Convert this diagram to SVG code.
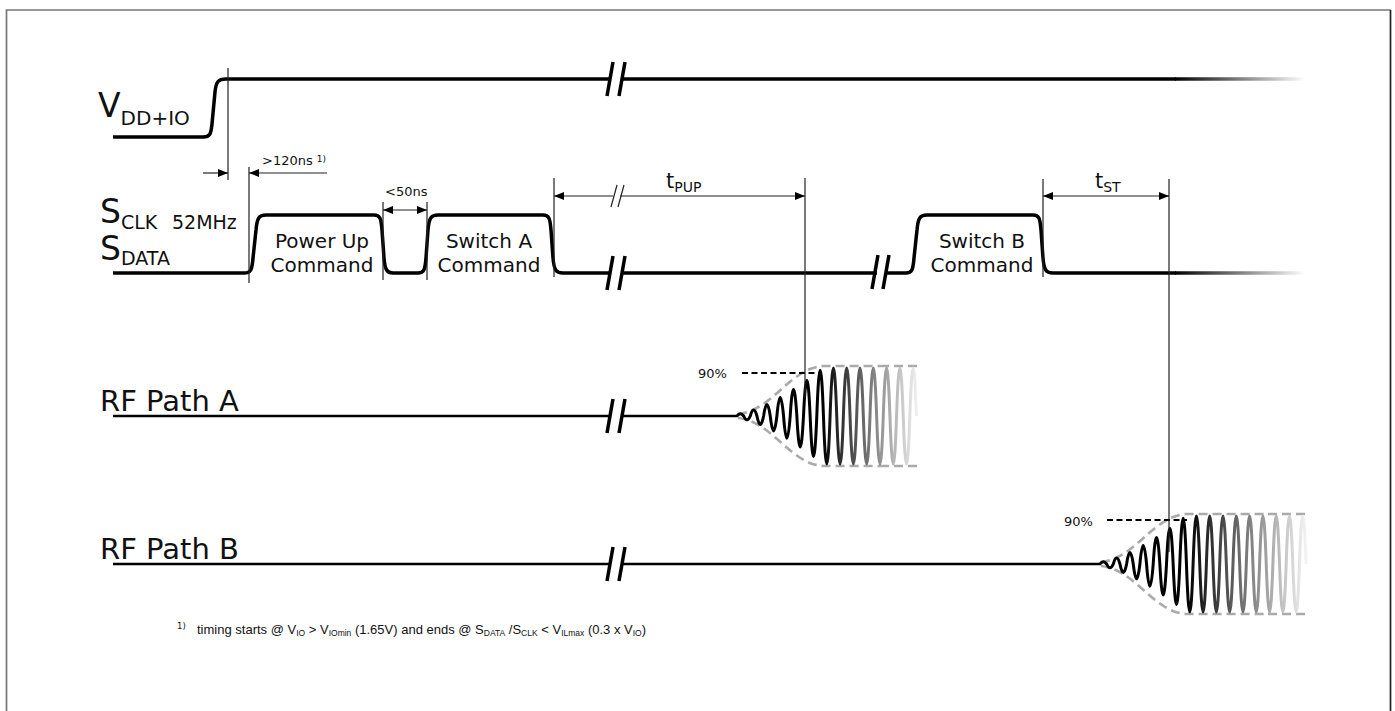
<svg xmlns="http://www.w3.org/2000/svg" width="1395" height="711" viewBox="0 0 1395 711">
<style>
.sig{fill:none;stroke:#000;stroke-width:3.5;stroke-linejoin:round;stroke-linecap:butt}
.rf{fill:none;stroke:#000;stroke-width:2.6}
.brk{stroke:#000;stroke-width:3.5;stroke-linecap:butt}
.dim{stroke:#222;stroke-width:1.2;fill:none}
.t{font-family:"DejaVu Sans",Verdana,sans-serif;fill:#111}
.env{fill:none;stroke:#aaa;stroke-width:2.6;stroke-dasharray:9,5}
.p90{stroke:#000;stroke-width:2.2;stroke-dasharray:6,3.5}
</style>
<defs>
<marker id="ah" viewBox="0 0 10 8" refX="10" refY="4" markerWidth="10" markerHeight="8" markerUnits="userSpaceOnUse" orient="auto-start-reverse">
<path d="M0,0 L10,4 L0,8 Z" fill="#000"/>
</marker>
<linearGradient id="fade" gradientUnits="userSpaceOnUse" x1="1175" y1="0" x2="1305" y2="0">
<stop offset="0" stop-color="#000"/>
<stop offset="1" stop-color="#000" stop-opacity="0"/>
</linearGradient>
<linearGradient id="gA" gradientUnits="userSpaceOnUse" x1="822" y1="0" x2="918" y2="0">
<stop offset="0" stop-color="#000"/>
<stop offset="1" stop-color="#f2f2f2"/>
</linearGradient>
<linearGradient id="gB" gradientUnits="userSpaceOnUse" x1="824" y1="0" x2="944" y2="0">
<stop offset="0" stop-color="#000"/>
<stop offset="1" stop-color="#f4f4f4"/>
</linearGradient>
<linearGradient id="eA" gradientUnits="userSpaceOnUse" x1="880" y1="0" x2="918" y2="0">
<stop offset="0" stop-color="#aaa"/>
<stop offset="1" stop-color="#aaa" stop-opacity="0.3"/>
</linearGradient>
<linearGradient id="eB" gradientUnits="userSpaceOnUse" x1="905" y1="0" x2="944" y2="0">
<stop offset="0" stop-color="#aaa"/>
<stop offset="1" stop-color="#aaa" stop-opacity="0.3"/>
</linearGradient>
</defs>
<rect width="1395" height="711" fill="#fff"/>
<path d="M6.5,712 V10 H1390.5" fill="none" stroke="#777" stroke-width="1.7"/>
<path d="M1390.5,10 V712" fill="none" stroke="#222" stroke-width="1.7"/>

<g id="vdd">
<text class="t" x="98" y="117" font-size="33">V<tspan font-size="20" dy="8">DD+IO</tspan></text>
<path class="sig" d="M113,137 H203 C210,137 211,134 212,124 L215,92 C216,82 218,79 226,79 H611 M621,79 H1176"/>
<path d="M1175,79 H1306" stroke="url(#fade)" stroke-width="3.5"/>
<path class="brk" d="M607,96 L613,62 M619,96 L625,62"/>
</g>

<g id="sclk">
<text class="t" x="100" y="223" font-size="33">S</text>
<text class="t" x="121" y="229" font-size="19">CLK</text>
<text class="t" x="172" y="229" font-size="19">52MHz</text>
<text class="t" x="100" y="260" font-size="33">S<tspan font-size="19" dy="5">DATA</tspan></text>
<path class="sig" d="M113,273 H244 C251,273 252,270 253,258 L256,230 C257,218 259,215 266,215 H374 C380,215 381,218 382,230 L384,258 C385,270 387,273 393,273 H418 C424,273 425,270 426,258 L428,230 C429,218 431,215 438,215 H543 C549,215 550,218 551,230 L553,258 C554,270 556,273 563,273 H611 M621,273 H877 M887,273 H906 C912,273 913,270 914,258 L917,230 C918,218 920,215 927,215 H1033 C1039,215 1040,218 1041,230 L1043,258 C1044,270 1046,273 1053,273 H1176"/>
<path d="M1175,273 H1306" stroke="url(#fade)" stroke-width="3.5"/>
<path class="brk" d="M607,290 L613,256 M619,290 L625,256 M872,289 L878,255 M883,289 L889,255"/>
</g>

<g id="cmd-powerup">
<text class="t" x="322" y="248" font-size="20" text-anchor="middle">Power Up</text>
<text class="t" x="322" y="272" font-size="20" text-anchor="middle">Command</text>
</g>
<g id="cmd-switchA">
<text class="t" x="489" y="248" font-size="20" text-anchor="middle">Switch A</text>
<text class="t" x="489" y="272" font-size="20" text-anchor="middle">Command</text>
</g>
<g id="cmd-switchB">
<text class="t" x="982" y="248" font-size="20" text-anchor="middle">Switch B</text>
<text class="t" x="982" y="272" font-size="20" text-anchor="middle">Command</text>
</g>

<g id="rfA">
<text class="t" x="100" y="411" font-size="29">RF Path A</text>
<path class="rf" d="M113,416 H611 M621,416 H738"/>
<path class="brk" d="M607,433 L613,399 M619,433 L625,399"/>
<path class="env" d="M738,414 C772,411 790,368 823,366 H880"/>
<path class="env" d="M738,418 C772,421 790,464 823,466 H880"/>
<path class="env" stroke="url(#eA)" d="M880,366 H918 M880,466 H918"/>
<path fill="none" stroke="#000" stroke-width="3" d="M737,416 Q740.3,411.4 743.65,416 Q747,423.6 750.3,416 Q753.6,404.2 756.95,416 Q760.3,433 763.6,416 Q766.9,393.2 770.25,416 Q773.6,445.6 776.9,416 Q780.2,379.2 783.55,416 Q786.9,460.6 790.2,416 Q793.5,363 796.85,416 Q800.2,478 803.5,416 Q806.9,344.6 810.15,416 Q813.5,497.2 816.8,416 Q820.2,324.6 823.45,416"/>
<path fill="none" stroke="url(#gA)" stroke-width="3" d="M823.45,416 Q826.8,512 830.1,416 Q833.4,320 836.75,416 Q840.1,512 843.4,416 Q846.7,320 850.05,416 Q853.4,512 856.7,416 Q860,320 863.35,416 Q866.7,512 870,416 Q873.3,320 876.65,416 Q880,512 883.3,416 Q886.6,320 889.95,416 Q893.3,512 896.6,416 Q899.9,320 903.25,416 Q906.6,512 909.9,416 Q913.2,320 916.55,416"/>
<path class="p90" d="M742,373 H822"/>
<text class="t" x="698" y="378" font-size="13">90%</text>
</g>

<g id="rfB">
<text class="t" x="100" y="559" font-size="29">RF Path B</text>
<path class="rf" d="M113,564 H611 M621,564 H1101"/>
<path class="brk" d="M607,581 L613,547 M619,581 L625,547"/>
<g transform="translate(363,148)">
<path class="env" d="M738,414 C772,411 790,368 823,366 H905"/>
<path class="env" d="M738,418 C772,421 790,464 823,466 H905"/>
<path class="env" stroke="url(#eB)" d="M905,366 H944 M905,466 H944"/>
<path fill="none" stroke="#000" stroke-width="3" d="M737,416 Q740.3,411.4 743.65,416 Q747,423.6 750.3,416 Q753.6,404.2 756.95,416 Q760.3,433 763.6,416 Q766.9,393.2 770.25,416 Q773.6,445.6 776.9,416 Q780.2,379.2 783.55,416 Q786.9,460.6 790.2,416 Q793.5,363 796.85,416 Q800.2,478 803.5,416 Q806.9,344.6 810.15,416 Q813.5,497.2 816.8,416 Q820.2,324.6 823.45,416"/>
<path fill="none" stroke="url(#gB)" stroke-width="3" d="M823.45,416 Q826.8,512 830.1,416 Q833.4,320 836.75,416 Q840.1,512 843.4,416 Q846.7,320 850.05,416 Q853.4,512 856.7,416 Q860,320 863.35,416 Q866.7,512 870,416 Q873.3,320 876.65,416 Q880,512 883.3,416 Q886.6,320 889.95,416 Q893.3,512 896.6,416 Q899.9,320 903.25,416 Q906.6,512 909.9,416 Q913.2,320 916.55,416 Q919.9,512 923.2,416 Q926.5,320 929.85,416 Q933.2,512 936.5,416 Q939.8,320 943.15,416"/>
</g>
<path class="p90" d="M1107,520 H1187"/>
<text class="t" x="1064" y="526" font-size="13">90%</text>
</g>

<g id="connectors">
<path class="dim" d="M228,68 V180 M249,167 V283 M383,202 V280 M427,202 V280 M554,178 V277 M805,178 V398 M1043,179 V277 M1169,179 V552"/>
<path class="dim" d="M203,173 H228" marker-end="url(#ah)"/>
<path class="dim" d="M327,173 H249" marker-end="url(#ah)"/>
<path class="dim" d="M383,210 H427" marker-start="url(#ah)" marker-end="url(#ah)"/>
<path class="dim" d="M554,196 H613" marker-start="url(#ah)"/>
<path class="dim" d="M620,196 H805" marker-end="url(#ah)"/>
<path class="dim" d="M611,207 L617,185 M618,207 L624,185"/>
<path class="dim" d="M1043,196 H1169" marker-start="url(#ah)" marker-end="url(#ah)"/>
</g>

<g id="labels">
<text class="t" x="262" y="165" font-size="13">&gt;120ns <tspan font-size="9" dy="-3">1)</tspan></text>
<text class="t" x="385" y="196" font-size="13">&lt;50ns</text>
<text class="t" x="666" y="188" font-size="21">t<tspan font-size="14" dy="4">PUP</tspan></text>
<text class="t" x="1095" y="188" font-size="21">t<tspan font-size="14" dy="4">ST</tspan></text>
</g>

<g id="footnote">
<text class="t" x="177" y="629" font-size="8.5" font-family="Liberation Sans, sans-serif">1)</text>
<text x="197" y="634" font-size="13" font-family="Liberation Sans, Arial, sans-serif" fill="#111">timing starts @ V<tspan font-size="8.5" dy="2">IO</tspan><tspan dy="-2"> &gt; V</tspan><tspan font-size="8.5" dy="2">IOmin</tspan><tspan dy="-2"> (1.65V) and ends @ S</tspan><tspan font-size="8.5" dy="2">DATA</tspan><tspan dy="-2"> /S</tspan><tspan font-size="8.5" dy="2">CLK</tspan><tspan dy="-2"> &lt; V</tspan><tspan font-size="8.5" dy="2">ILmax</tspan><tspan dy="-2"> (0.3 x V</tspan><tspan font-size="8.5" dy="2">IO</tspan><tspan dy="-2">)</tspan></text>
</g>
</svg>
